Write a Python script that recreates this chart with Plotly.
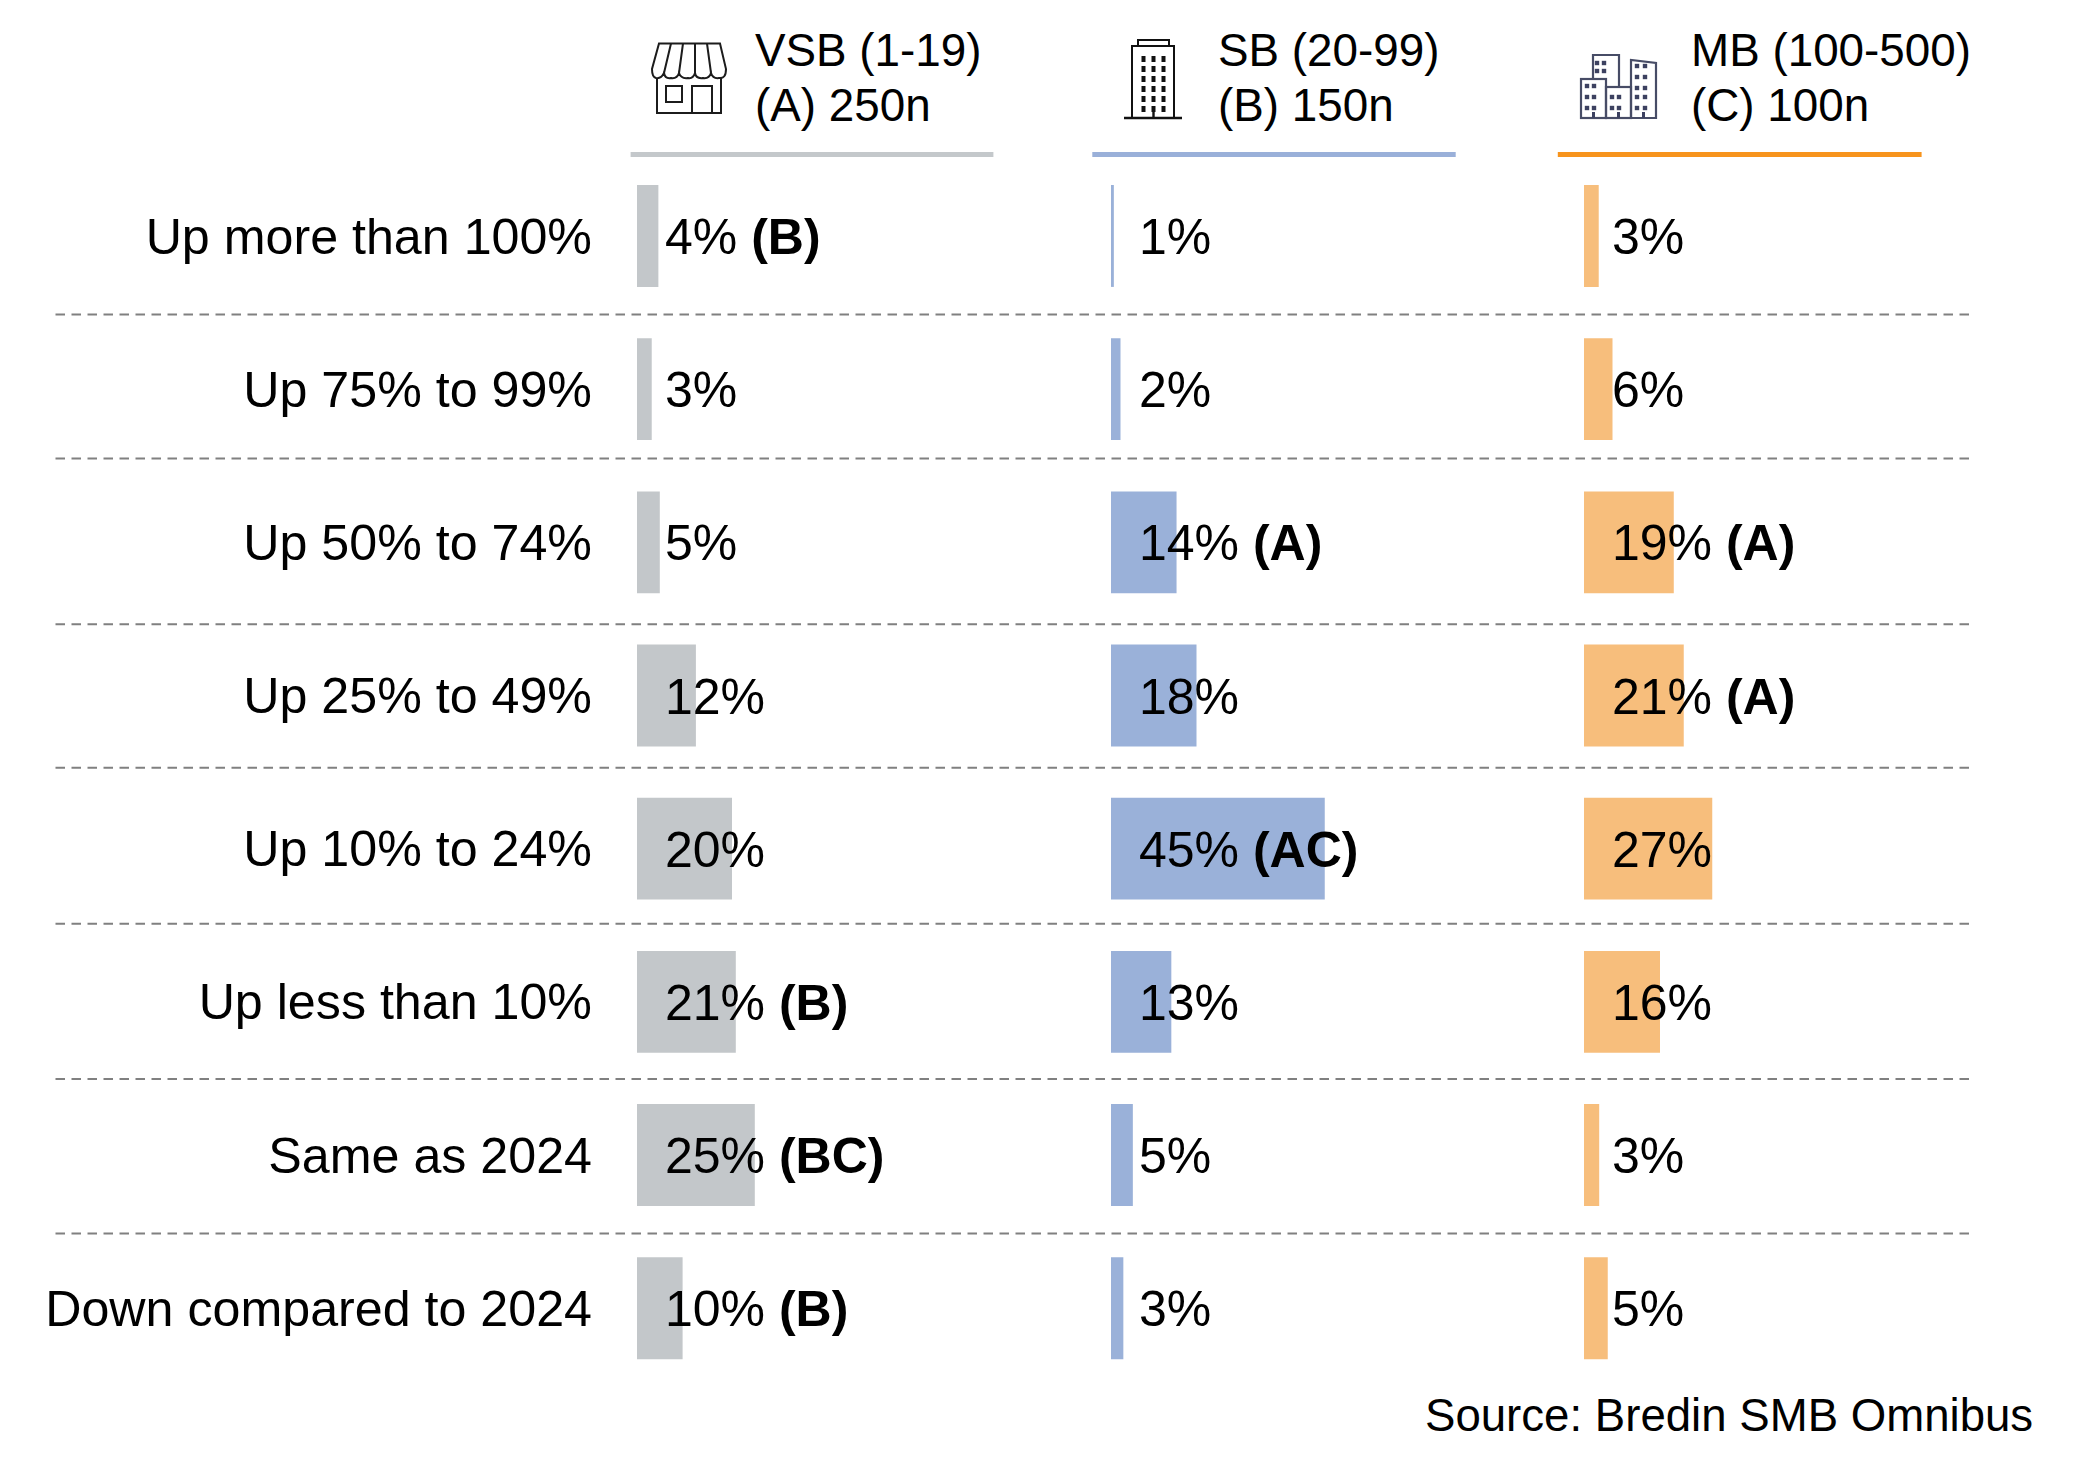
import base64
import plotly.graph_objects as go

W, H = 2099, 1468

categories = ["Up more than 100%", "Up 75% to 99%", "Up 50% to 74%", "Up 25% to 49%",
              "Up 10% to 24%", "Up less than 10%", "Same as 2024", "Down compared to 2024"]

vsb_values = [4.5, 3.1, 4.8, 12.4, 20.0, 20.8, 24.8, 9.6]
sb_values = [0.6, 2.0, 13.8, 18.0, 45.0, 12.7, 4.6, 2.6]
mb_values = [3.1, 6.0, 18.9, 21.0, 27.0, 16.0, 3.2, 5.0]

vsb_labels = ["4%", "3%", "5%", "12%", "20%", "21%", "25%", "10%"]
sb_labels = ["1%", "2%", "14%", "18%", "45%", "13%", "5%", "3%"]
mb_labels = ["3%", "6%", "19%", "21%", "27%", "16%", "3%", "5%"]

vsb_sig = ["B", "", "", "", "", "B", "BC", "B"]
sb_sig = ["", "", "A", "", "AC", "", "", ""]
mb_sig = ["", "", "A", "A", "", "", "", ""]

header_line1 = ["VSB (1-19)", "SB (20-99)", "MB (100-500)"]
header_line2 = ["(A) 250n", "(B) 150n", "(C) 100n"]
source_text = "Source: Bredin SMB Omnibus"

FONT = "Liberation Sans, Arial, sans-serif"
BAR_COLORS = ["#C3C7CA", "#9AB1D9", "#F7BE7C"]
RULE_COLORS = ["#C4C8CB", "#9AB0D9", "#F7941D"]


def px(x):
    return x / W


def py(y):
    return 1 - y / H


PANEL_LEFT = [637, 1111, 1584]
PX_PER_PCT = 4.75
PANEL_RANGE = 50
Y_TOP, Y_BOTTOM = 159.4, 1384.8

fig = go.Figure()
annotations = []
series = [(vsb_values, vsb_labels, vsb_sig), (sb_values, sb_labels, sb_sig), (mb_values, mb_labels, mb_sig)]
for i, (vals, labels, sig) in enumerate(series):
    xa = "x" if i == 0 else f"x{i + 1}"
    fig.add_trace(go.Bar(
        x=vals, y=categories, orientation="h", xaxis=xa, yaxis="y",
        marker=dict(color=BAR_COLORS[i], line_width=0), width=0.665,
        hoverinfo="skip", showlegend=False,
    ))
    for cat, l, s in zip(categories, labels, sig):
        annotations.append(dict(
            text=f"{l} <b>({s})</b>" if s else l, x=5.95, y=cat, xref=xa, yref="y",
            xanchor="left", yanchor="middle", yshift=-1, showarrow=False, borderpad=0, borderwidth=0,
            font=dict(family=FONT, size=50, color="#000000"),
        ))

layout_axes = {}
for i, left in enumerate(PANEL_LEFT):
    name = "xaxis" if i == 0 else f"xaxis{i + 1}"
    cfg = dict(domain=[px(left), px(left + PX_PER_PCT * PANEL_RANGE)], range=[0, PANEL_RANGE],
               visible=False, fixedrange=True)
    if i:
        cfg["anchor"] = "y"
    layout_axes[name] = cfg

shapes = []
# dashed separators
for y in [314.6, 458.5, 624.3, 767.7, 923.7, 1079, 1233.6]:
    shapes.append(dict(type="line", xref="paper", yref="paper", x0=px(55.5), x1=px(1971), y0=py(y), y1=py(y),
                       line=dict(color="#808080", width=2, dash="9.5px,6.5px"), layer="below"))
# header rules
for (a, b), c in zip([(630.6, 993.4), (1092.3, 1455.7), (1557.8, 1921.6)], RULE_COLORS):
    shapes.append(dict(type="rect", xref="paper", yref="paper", x0=px(a), x1=px(b), y0=py(156.9), y1=py(152),
                       fillcolor=c, line_width=0))

for x, a, b in zip([755, 1218, 1691], header_line1, header_line2):
    for y, t in [(50.5, a), (105.5, b)]:
        annotations.append(dict(text=t, xref="paper", yref="paper", x=px(x), y=py(y), xanchor="left",
                                yanchor="middle", showarrow=False, borderpad=0, borderwidth=0,
                                font=dict(family=FONT, size=45.8, color="#000000")))
annotations.append(dict(text=source_text, xref="paper", yref="paper", x=px(2032.5), y=py(1415), xanchor="right",
                        yanchor="middle", showarrow=False, borderpad=0, borderwidth=0,
                        font=dict(family=FONT, size=45.6, color="#000000")))


def svg_uri(w, h, body):
    svg = f'<svg xmlns="http://www.w3.org/2000/svg" width="{w}" height="{h}" viewBox="0 0 {w} {h}">{body}</svg>'
    return "data:image/svg+xml;base64," + base64.b64encode(svg.encode()).decode()


def icon(x, y, w, h, body):
    return dict(source=svg_uri(w, h, body), xref="paper", yref="paper", x=px(x), y=py(y),
                sizex=w / W, sizey=h / H, xanchor="left", yanchor="top", sizing="stretch", layer="above")


# storefront, local origin (650, 41)
store = ('<g fill="#fff" stroke="#1c1c1c" stroke-width="2">'
         '<rect x="7" y="34" width="64" height="38"/>'
         '<rect x="16" y="45" width="16" height="16"/>'
         '<rect x="42" y="45" width="20" height="27"/>'
         '<path d="M9 2.5H70L76 28Q76 38 69 37 Q63 38 61 32 Q59 38 53 37 Q46 38 45 32 Q43 38 38 37 Q31 38 29 32 Q27 38 21 37 Q15 38 14 32 Q11 38 6 37 Q2 36 2 28Z"/>'
         '<path d="M21 2.5L14 32M33 2.5L29 32M45 2.5L45 32M57 2.5L61 32" fill="none"/>'
         '</g>')
# tower, local origin (1122, 38)
tower_w = ''.join(f'<rect x="{cx - 2}" y="{cy}" width="4" height="6"/>'
                  for cx in (21.5, 31.5, 41.5) for cy in (18, 28, 38, 48, 58, 68))
tower = ('<g fill="none" stroke="#111" stroke-width="2">'
         '<rect x="16" y="2" width="31" height="6"/>'
         '<rect x="10" y="8" width="42" height="72"/>'
         '<path d="M2 80H60M31.5 72V80" stroke-width="2.4"/></g>'
         f'<g fill="#111">{tower_w}</g>')
# office cluster, local origin (1578, 52)
dots = []
for cx, cy in [(19, 11), (26, 11), (19, 19), (26, 19),
               (9, 34), (16, 34), (9, 45), (16, 45), (9, 56), (16, 56),
               (34, 45), (41, 45), (34, 56), (41, 56),
               (59, 14), (67, 14), (59, 25), (67, 25), (59, 36), (67, 36), (59, 45), (67, 45), (59, 56), (67, 56)]:
    dots.append(f'<rect x="{cx - 2.2}" y="{cy - 2.2}" width="4.4" height="4.4"/>')
offices = ('<g fill="none" stroke="#474C66" stroke-width="2.2">'
           '<path d="M15 27V3H41V35"/>'
           '<rect x="3" y="27" width="25" height="39"/>'
           '<rect x="28" y="35" width="25" height="31"/>'
           '<path d="M53 66V8L78 11V66Z"/></g>'
           f'<g fill="#3C4160">{"".join(dots)}'
           '<rect x="14" y="60" width="3" height="6"/><rect x="39" y="60" width="3" height="6"/>'
           '<rect x="64" y="60" width="3" height="6"/></g>')
images = [icon(650, 41, 78, 74, store), icon(1122, 38, 62, 82, tower), icon(1578, 52, 80, 68, offices)]

fig.update_layout(
    width=W, height=H, margin=dict(l=0, r=0, t=0, b=0),
    paper_bgcolor="#FFFFFF", plot_bgcolor="#FFFFFF",
    yaxis=dict(domain=[py(Y_BOTTOM), py(Y_TOP)], type="category", categoryorder="array", categoryarray=categories,
               range=[len(categories) - 0.5, -0.5], showgrid=False, zeroline=False, showline=False,
               ticks="", ticklabelstandoff=44, tickfont=dict(family=FONT, size=50.2, color="#000000"),
               anchor="x", fixedrange=True),
    shapes=shapes, annotations=annotations, images=images, bargap=0.335,
    **layout_axes,
)

fig.write_html("out.html", post_script="document.body.style.margin='0';", config=dict(displayModeBar=False))
